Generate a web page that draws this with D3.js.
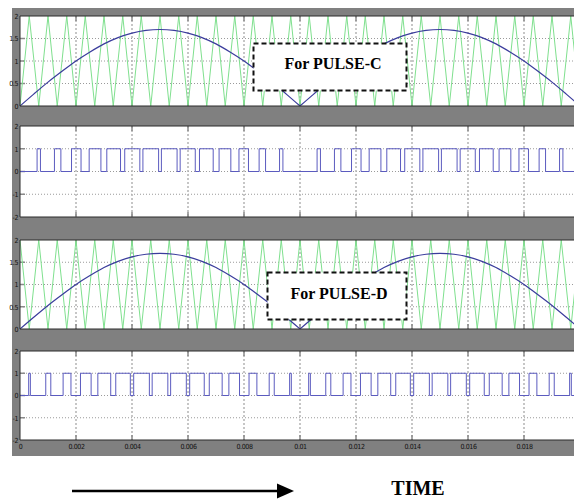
<!doctype html>
<html lang="en">
<head>
<meta charset="utf-8">
<title>PWM pulses C and D</title>
<script src="https://d3js.org/d3.v7.min.js"></script>
<style>
  body { margin: 0; background: #fff; }
  svg { display: block; }
  .tick-label { font-family: "Liberation Sans Narrow", "DejaVu Sans Condensed", sans-serif; font-size: 7px; fill: #111; letter-spacing: -0.4px; }
</style>
</head>
<body>
<svg width="574" height="499"></svg>
<script>
// ---- data ----
var timeTicks = [0, 0.002, 0.004, 0.006, 0.008, 0.01, 0.012, 0.014, 0.016, 0.018];
var timeLabels = ["0", "0.002", "0.004", "0.006", "0.008", "0.01", "0.012", "0.014", "0.016", "0.018"];
var carrierTicks = [0, 0.5, 1, 1.5, 2];
var carrierLabels = ["0", "0.5", "1", "1.5", "2"];
var pulseTicks = [-2, -1, 0, 1, 2];
var pulseLabels = ["-2", "-1", "0", "1", "2"];

// triangle carrier corner points (s)
var carrierTimes = [0, 0.00033, 0.00067, 0.001, 0.00133, 0.00167, 0.002, 0.00233, 0.00267, 0.003,
  0.00333, 0.00367, 0.004, 0.00433, 0.00467, 0.005, 0.00533, 0.00567, 0.006, 0.00633,
  0.00667, 0.007, 0.00733, 0.00767, 0.008, 0.00833, 0.00867, 0.009, 0.00933, 0.00967,
  0.01, 0.01033, 0.01067, 0.011, 0.01133, 0.01167, 0.012, 0.01233, 0.01267, 0.013,
  0.01333, 0.01367, 0.014, 0.01433, 0.01467, 0.015, 0.01533, 0.01567, 0.016, 0.01633,
  0.01667, 0.017, 0.01733, 0.01767, 0.018, 0.01833, 0.01867, 0.019, 0.01933, 0.01967,
  0.02];
var carrierC = [0, 2, 0, 2, 0, 2, 0, 2, 0, 2,
  0, 2, 0, 2, 0, 2, 0, 2, 0, 2,
  0, 2, 0, 2, 0, 2, 0, 2, 0, 2,
  0, 2, 0, 2, 0, 2, 0, 2, 0, 2,
  0, 2, 0, 2, 0, 2, 0, 2, 0, 2,
  0, 2, 0, 2, 0, 2, 0, 2, 0, 2,
  0];
var carrierD = [2, 0, 2, 0, 2, 0, 2, 0, 2, 0,
  2, 0, 2, 0, 2, 0, 2, 0, 2, 0,
  2, 0, 2, 0, 2, 0, 2, 0, 2, 0,
  2, 0, 2, 0, 2, 0, 2, 0, 2, 0,
  2, 0, 2, 0, 2, 0, 2, 0, 2, 0,
  2, 0, 2, 0, 2, 0, 2, 0, 2, 0,
  2];

// rectified reference wave
var sineTimes = [0, 0.0005, 0.001, 0.0015, 0.002, 0.0025, 0.003, 0.0035, 0.004, 0.0045,
  0.005, 0.0055, 0.006, 0.0065, 0.007, 0.0075, 0.008, 0.0085, 0.009, 0.0095,
  0.01, 0.0105, 0.011, 0.0115, 0.012, 0.0125, 0.013, 0.0135, 0.014, 0.0145,
  0.015, 0.0155, 0.016, 0.0165, 0.017, 0.0175, 0.018, 0.0185, 0.019, 0.0195,
  0.02];
var sineValues = [0, 0.27, 0.53, 0.77, 1.0, 1.2, 1.38, 1.52, 1.62, 1.68,
  1.7, 1.68, 1.62, 1.52, 1.38, 1.2, 1.0, 0.77, 0.53, 0.27,
  0, 0.27, 0.53, 0.77, 1.0, 1.2, 1.38, 1.52, 1.62, 1.68,
  1.7, 1.68, 1.62, 1.52, 1.38, 1.2, 1.0, 0.77, 0.53, 0.27,
  0];

// pulse edges (s)
var pulseCRise = [0.00061, 0.00123, 0.00184, 0.00247, 0.00310, 0.00374, 0.00439, 0.00505, 0.00572, 0.00641,
  0.00711, 0.00782, 0.00854, 0.00927, 0.01061, 0.01123, 0.01184, 0.01247, 0.01310, 0.01374,
  0.01439, 0.01505, 0.01572, 0.01641, 0.01711, 0.01782, 0.01854, 0.01927];
var pulseCFall = [0.00073, 0.00146, 0.00218, 0.00289, 0.00359, 0.00428, 0.00495, 0.00561, 0.00626, 0.00690,
  0.00753, 0.00816, 0.00877, 0.00939, 0.01073, 0.01146, 0.01218, 0.01289, 0.01359, 0.01428,
  0.01495, 0.01561, 0.01626, 0.01690, 0.01753, 0.01816, 0.01877, 0.01939];
var pulseDRise = [0.00031, 0.00092, 0.00154, 0.00216, 0.00278, 0.00342, 0.00406, 0.00472, 0.00538, 0.00606,
  0.00676, 0.00746, 0.00818, 0.00890, 0.00963, 0.01031, 0.01092, 0.01154, 0.01216, 0.01278,
  0.01342, 0.01406, 0.01472, 0.01538, 0.01606, 0.01676, 0.01746, 0.01818, 0.01890, 0.01963];
var pulseDFall = [0.00037, 0.00110, 0.00182, 0.00254, 0.00324, 0.00394, 0.00462, 0.00528, 0.00594, 0.00658,
  0.00722, 0.00784, 0.00846, 0.00908, 0.00969, 0.01037, 0.01110, 0.01182, 0.01254, 0.01324,
  0.01394, 0.01462, 0.01528, 0.01594, 0.01658, 0.01722, 0.01784, 0.01846, 0.01908, 0.01969];

// ---- drawing ----
var svg = d3.select('svg');
var W = 574;
var SERIF = '"Liberation Serif", "DejaVu Serif", serif';

var x = d3.scaleLinear().domain([0, 0.02]).range([20, 580]);

svg.append('rect')
    .attr('x', 12).attr('y', 8)
    .attr('width', W - 12).attr('height', 448)
    .attr('fill', '#808080');

var panelId = 0;
var drawPanel = function(top, bottom, domain, ticks, labels, showTime){
  var y = d3.scaleLinear().domain(domain).range([bottom, top]);
  var g = svg.append('g');
  var id = 'clip' + (panelId++);

  g.append('clipPath').attr('id', id)
    .append('rect')
      .attr('x', x(0)).attr('y', top - 1)
      .attr('width', W - x(0)).attr('height', bottom - top + 2);

  g.append('rect')
      .attr('x', x(0)).attr('y', top)
      .attr('width', W - x(0)).attr('height', bottom - top)
      .attr('fill', '#fff');

  // dotted grid
  g.selectAll('.hgrid').data(ticks.slice(1, -1)).enter()
    .append('line')
      .attr('x1', x(0)).attr('x2', W)
      .attr('y1', function(d){ return y(d); }).attr('y2', function(d){ return y(d); })
      .attr('stroke', '#9a9a9a').attr('stroke-width', 1)
      .attr('stroke-dasharray', '1,2');

  g.selectAll('.vgrid').data(timeTicks.slice(1)).enter()
    .append('line')
      .attr('x1', function(d){ return x(d); }).attr('x2', function(d){ return x(d); })
      .attr('y1', top).attr('y2', bottom)
      .attr('stroke', '#b4b4b4').attr('stroke-width', 1.5)
      .attr('stroke-dasharray', '2,2');

  // inward tick marks
  g.selectAll('.xtickb').data(timeTicks.slice(1)).enter()
    .append('line')
      .attr('x1', function(d){ return x(d); }).attr('x2', function(d){ return x(d); })
      .attr('y1', bottom).attr('y2', bottom - 5)
      .attr('stroke', '#8a8a8a').attr('stroke-width', 1.5);
  g.selectAll('.xtickt').data(timeTicks.slice(1)).enter()
    .append('line')
      .attr('x1', function(d){ return x(d); }).attr('x2', function(d){ return x(d); })
      .attr('y1', top).attr('y2', top + 5)
      .attr('stroke', '#8a8a8a').attr('stroke-width', 1.5);
  g.selectAll('.ytick').data(ticks.slice(1, -1)).enter()
    .append('line')
      .attr('x1', x(0)).attr('x2', x(0) + 5)
      .attr('y1', function(d){ return y(d); }).attr('y2', function(d){ return y(d); })
      .attr('stroke', '#8a8a8a').attr('stroke-width', 1.5);

  // y labels
  var yAxis = g.append('g')
      .attr('transform', 'translate(' + (x(0) - 1) + ',0)')
      .call(d3.axisLeft(y).tickValues(ticks).tickSize(0).tickPadding(1)
        .tickFormat(function(d, i){ return labels[i]; }));
  yAxis.select('.domain').remove();
  yAxis.selectAll('text').attr('class', 'tick-label').attr('fill', null);

  if (showTime) {
    var xAxis = g.append('g')
        .attr('transform', 'translate(0,' + bottom + ')')
        .call(d3.axisBottom(x).tickValues(timeTicks).tickSize(0).tickPadding(4)
          .tickFormat(function(d, i){ return timeLabels[i]; }));
    xAxis.select('.domain').remove();
    xAxis.selectAll('text').attr('class', 'tick-label').attr('fill', null);
  }

  var plot = g.append('g').attr('clip-path', 'url(#' + id + ')');

  // frame
  g.append('path')
      .attr('d', 'M' + W + ',' + top + 'H' + x(0) + 'V' + bottom + 'H' + W)
      .attr('fill', 'none').attr('stroke', '#2a2a2a').attr('stroke-width', 1);

  return { y: y, plot: plot };
};

var drawCarrier = function(panel, levels){
  var pts = carrierTimes.map(function(t, i){ return [t, levels[i]]; });
  panel.plot.append('path')
      .datum(pts)
      .attr('fill', 'none')
      .attr('stroke', '#7fe08e')
      .attr('stroke-width', 1)
      .attr('d', d3.line()
        .x(function(d){ return x(d[0]); })
        .y(function(d){ return panel.y(d[1]); }));

  var sinePts = sineTimes.map(function(t, i){ return [t, sineValues[i]]; });
  [sinePts.slice(0, 21), sinePts.slice(20)].forEach(function(hump){
    panel.plot.append('path')
        .datum(hump)
        .attr('fill', 'none')
        .attr('stroke', '#3a3c9c')
        .attr('stroke-width', 1.2)
        .attr('d', d3.line()
          .curve(d3.curveMonotoneX)
          .x(function(d){ return x(d[0]); })
          .y(function(d){ return panel.y(d[1]); }));
  });
};

var drawPulse = function(panel, rise, fall){
  var pts = [[0, 0]];
  rise.forEach(function(r, i){
    pts.push([r, 0], [r, 1], [fall[i], 1], [fall[i], 0]);
  });
  pts.push([0.02, 0]);
  panel.plot.append('path')
      .datum(pts)
      .attr('fill', 'none')
      .attr('stroke', '#5b5bbf')
      .attr('stroke-width', 1)
      .attr('d', d3.line()
        .x(function(d){ return x(d[0]); })
        .y(function(d){ return panel.y(d[1]); }));
};

var p1 = drawPanel(16, 106, [0, 2], carrierTicks, carrierLabels, false);
drawCarrier(p1, carrierC);
var p2 = drawPanel(126, 217, [-2, 2], pulseTicks, pulseLabels, false);
drawPulse(p2, pulseCRise, pulseCFall);
var p3 = drawPanel(240, 329, [0, 2], carrierTicks, carrierLabels, false);
drawCarrier(p3, carrierD);
var p4 = drawPanel(351, 440, [-2, 2], pulseTicks, pulseLabels, true);
drawPulse(p4, pulseDRise, pulseDFall);

// annotation boxes
var drawBox = function(bx, by, bw, bh, label, cx, base){
  svg.append('rect')
      .attr('x', bx).attr('y', by)
      .attr('width', bw).attr('height', bh)
      .attr('fill', '#fff')
      .attr('stroke', '#111')
      .attr('stroke-width', 2)
      .attr('stroke-dasharray', '5,3');
  svg.append('text')
      .attr('x', cx).attr('y', base)
      .attr('text-anchor', 'middle')
      .attr('font-family', SERIF)
      .attr('font-weight', 'bold')
      .attr('font-size', 16)
      .attr('fill', '#000')
      .text(label);
};
drawBox(253.5, 43.5, 153, 47, 'For PULSE-C', 333, 69);
drawBox(267.5, 272.5, 139, 47, 'For PULSE-D', 339, 299);

// time arrow
svg.append('line')
    .attr('x1', 72).attr('x2', 280)
    .attr('y1', 491).attr('y2', 491)
    .attr('stroke', '#000').attr('stroke-width', 2.5);
svg.append('path')
    .attr('d', 'M277,483.5L294,491L277,498.5Z')
    .attr('fill', '#000');
svg.append('text')
    .attr('x', 418).attr('y', 495)
    .attr('text-anchor', 'middle')
    .attr('font-family', SERIF)
    .attr('font-weight', 'bold')
    .attr('font-size', 20)
    .attr('fill', '#000')
    .text('TIME');
</script>
</body>
</html>
